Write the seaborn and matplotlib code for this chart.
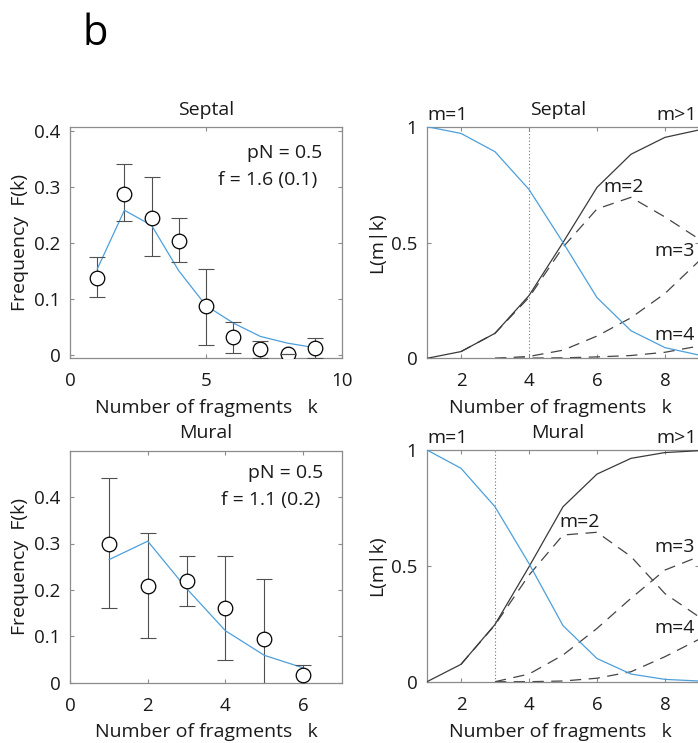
import matplotlib
matplotlib.use('Agg')
import matplotlib.pyplot as plt
import seaborn as sns
import numpy as np

# ---------------- data ----------------
# Frequency panels (left)
k_sep = [1, 2, 3, 4, 5, 6, 7, 8, 9]
F_sep = [0.138, 0.287, 0.245, 0.203, 0.087, 0.032, 0.010, 0.001, 0.012]
F_sep_hi = [0.175, 0.341, 0.318, 0.245, 0.153, 0.059, 0.024, 0.001, 0.030]
F_sep_lo = [0.104, 0.238, 0.177, 0.166, 0.018, 0.004, -0.006, 0.001, -0.006]
fit_sep = [0.153, 0.258, 0.231, 0.150, 0.088, 0.057, 0.033, 0.021, 0.013]

k_mur = [1, 2, 3, 4, 5, 6]
F_mur = [0.300, 0.209, 0.220, 0.162, 0.095, 0.016]
F_mur_hi = [0.442, 0.322, 0.274, 0.274, 0.224, 0.039]
F_mur_lo = [0.160, 0.097, 0.166, 0.049, -0.020, -0.008]
fit_mur = [0.265, 0.305, 0.203, 0.112, 0.059, 0.032]

# Likelihood panels (right)
kk = [1, 2, 3, 4, 5, 6, 7, 8, 9]
k2 = [2, 3, 4, 5, 6, 7, 8, 9]
k34 = [3, 4, 5, 6, 7, 8, 9]

sep_m1 = [1.0, 0.971, 0.892, 0.729, 0.50, 0.262, 0.119, 0.046, 0.014]
sep_mgt1 = [0.0, 0.029, 0.108, 0.271, 0.50, 0.738, 0.881, 0.954, 0.986]
sep_m2 = [0.029, 0.108, 0.263, 0.48, 0.645, 0.695, 0.61, 0.515]
sep_m3 = [0.0, 0.008, 0.035, 0.096, 0.175, 0.28, 0.42]
sep_m4 = [0.0, 0.001, 0.002, 0.006, 0.012, 0.026, 0.053]

mur_m1 = [1.0, 0.921, 0.755, 0.51, 0.242, 0.10, 0.033, 0.01, 0.003]
mur_mgt1 = [0.0, 0.075, 0.247, 0.496, 0.755, 0.896, 0.964, 0.989, 0.997]
mur_m2 = [0.075, 0.245, 0.46, 0.633, 0.645, 0.54, 0.38, 0.28]
mur_m3 = [0.0, 0.033, 0.115, 0.23, 0.36, 0.482, 0.54]
mur_m4 = [0.0, 0.0, 0.003, 0.015, 0.043, 0.108, 0.183]

# ---------------- style ----------------
sns.set_style('white')
plt.rcParams['font.family'] = ['Open Sans', 'DejaVu Sans']
FS = 14
TFS = 13.5
BLUE = '#4d9fdb'
SPINE = '#8c8c8c'
TXT = '#1a1a1a'
ERR = '#505050'
DARK = '#3a3a3a'
DASH = '#444444'

fig = plt.figure(figsize=(6.98, 7.43), dpi=100)
W, H = 698.0, 743.0


def add_axes(left, top, right, bottom):
    return fig.add_axes([left / W, (H - bottom) / H, (right - left) / W, (bottom - top) / H])


def style_axes(ax):
    for s in ax.spines.values():
        s.set_visible(True)
        s.set_color(SPINE)
        s.set_linewidth(0.9)
    ax.tick_params(direction='in', length=3, width=0.8, color=SPINE,
                   labelcolor=TXT, labelsize=TFS, top=True, right=True,
                   bottom=True, left=True, labeltop=False, labelright=False)
    ax.tick_params(axis='x', pad=10)
    ax.tick_params(axis='y', pad=7)


def freq_panel(ax, k, F, lo, hi, fit, xlim, ylim, xticks, yticks, yticklabels,
               title, pn, ftxt, pn_pos, f_pos, ylab_y):
    F_a = np.asarray(F)
    yerr = [F_a - np.asarray(lo), np.asarray(hi) - F_a]
    _, caps, bars = ax.errorbar(k, F, yerr=yerr, fmt='none', ecolor=ERR,
                                elinewidth=0.8, capsize=5.5, capthick=0.8, zorder=2)
    for c in caps:
        c.set_zorder(5)
    sns.lineplot(x=k, y=fit, ax=ax, color=BLUE, linewidth=0.9, zorder=3)
    sns.scatterplot(x=k, y=F, ax=ax, marker='o', s=110, facecolor='white',
                    edgecolor='black', linewidth=0.9, zorder=4)
    ax.set_xlim(*xlim)
    ax.set_ylim(*ylim)
    ax.set_xticks(xticks)
    ax.set_xticklabels([str(t) for t in xticks])
    ax.set_yticks(yticks)
    ax.set_yticklabels(yticklabels)
    style_axes(ax)
    ax.text(0.5, ylab_y[0], title, transform=ax.transAxes, ha='center', va='center',
            fontsize=FS, color=TXT)
    ax.text(pn_pos[0], pn_pos[1], pn, transform=ax.transAxes, ha='right', va='center',
            fontsize=FS, color=TXT)
    ax.text(f_pos[0], f_pos[1], ftxt, transform=ax.transAxes, ha='right', va='center',
            fontsize=FS, color=TXT)
    ax.set_xlabel('Number of fragments   k', fontsize=FS, color=TXT)
    ax.xaxis.set_label_coords(0.5, ylab_y[1])
    ax.xaxis.label.set_va('center')
    ax.set_ylabel('Frequency  F(k)', fontsize=FS, color=TXT)
    ax.yaxis.set_label_coords(-0.184, 0.5)
    ax.yaxis.label.set_va('center')


def lik_panel(ax, m1, mgt1, m2, m3, m4, vline, title, lab2, lab3, lab4, xlab_y, top_y):
    ax.axvline(vline, color='#777777', linestyle=(0, (1, 2)), linewidth=0.8, zorder=1)
    sns.lineplot(x=kk, y=mgt1, ax=ax, color=DARK, linewidth=0.9, zorder=3)
    sns.lineplot(x=k2, y=m2, ax=ax, color=DASH, linewidth=0.9, linestyle=(0, (9, 6)), zorder=2)
    sns.lineplot(x=k34, y=m3, ax=ax, color=DASH, linewidth=0.9, linestyle=(0, (9, 6)), zorder=2)
    sns.lineplot(x=k34, y=m4, ax=ax, color=DASH, linewidth=0.9, linestyle=(0, (9, 6)), zorder=2)
    sns.lineplot(x=kk, y=m1, ax=ax, color=BLUE, linewidth=0.9, zorder=4)
    ax.set_xlim(1, 9)
    ax.set_ylim(0, 1)
    ax.set_xticks([2, 4, 6, 8])
    ax.set_xticklabels(['2', '4', '6', '8'])
    ax.set_yticks([0, 0.5, 1])
    ax.set_yticklabels(['0', '0.5', '1'])
    style_axes(ax)
    ax.text(0.482, top_y[0], title, transform=ax.transAxes, ha='center', va='center',
            fontsize=FS, color=TXT)
    ax.text(0.0, top_y[1], 'm=1', transform=ax.transAxes, ha='left', va='center',
            fontsize=FS, color=TXT)
    ax.text(0.993, top_y[1], 'm>1', transform=ax.transAxes, ha='right', va='center',
            fontsize=FS, color=TXT)
    for (x, y, s) in (lab2 + ('m=2',), lab3 + ('m=3',), lab4 + ('m=4',)):
        ax.text(x, y, s, ha='left', va='center', fontsize=FS, color=TXT, clip_on=False)
    ax.set_xlabel('Number of fragments   k', fontsize=FS, color=TXT)
    ax.xaxis.set_label_coords(0.489, xlab_y)
    ax.xaxis.label.set_va('center')
    ax.set_ylabel('L(m|k)', fontsize=FS, color=TXT)
    ax.yaxis.set_label_coords(-0.184, 0.5)
    ax.yaxis.label.set_va('center')


ax_tl = add_axes(70, 126.7, 342, 358.3)
ax_tr = add_axes(427, 126.7, 699, 358.3)
ax_bl = add_axes(70, 450.7, 342, 682.7)
ax_br = add_axes(427, 450.0, 699, 681.7)

freq_panel(ax_tl, k_sep, F_sep, F_sep_lo, F_sep_hi, fit_sep, (0, 10), (-0.006, 0.407),
           [0, 5, 10], [0, 0.1, 0.2, 0.3, 0.4], ['0', '0.1', '0.2', '0.3', '0.4'],
           'Septal', 'pN = 0.5', 'f = 1.6 (0.1)', (0.926, 0.886), (0.908, 0.770),
           (1.072, -0.2146))
freq_panel(ax_bl, k_mur, F_mur, F_mur_lo, F_mur_hi, fit_mur, (0, 7), (0, 0.5),
           [0, 2, 4, 6], [0, 0.1, 0.2, 0.3, 0.4], ['0', '0.1', '0.2', '0.3', '0.4'],
           'Mural', 'pN = 0.5', 'f = 1.1 (0.2)', (0.930, 0.905), (0.919, 0.7875),
           (1.076, -0.2125))

lik_panel(ax_tr, sep_m1, sep_mgt1, sep_m2, sep_m3, sep_m4, 4, 'Septal',
          (6.18, 0.738), (7.69, 0.465), (7.69, 0.10), -0.2146, (1.072, 1.051))
lik_panel(ax_br, mur_m1, mur_mgt1, mur_m2, mur_m3, mur_m4, 3, 'Mural',
          (4.88, 0.69), (7.69, 0.583), (7.69, 0.232), -0.216, (1.073, 1.052))

fig.text(83 / W, (H - 45) / H, 'b', fontsize=30, color='black', ha='left', va='baseline')

fig.savefig('out.png', dpi=100)
